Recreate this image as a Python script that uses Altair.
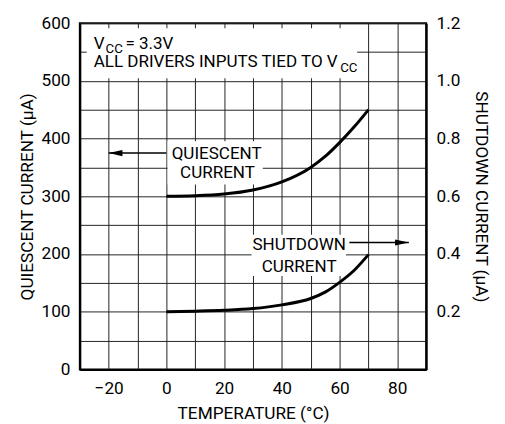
import altair as alt
import pandas as pd

# ---- data ----
temp = [0, 10, 20, 30, 40, 50, 55, 60, 65, 70]
quiescent = [300, 301, 304, 311, 325, 350, 369, 393, 420, 450]          # µA (left axis)
shutdown = [0.200, 0.202, 0.205, 0.211, 0.224, 0.246, 0.268, 0.302, 0.343, 0.398]  # µA (right axis)

x_ticks = list(range(-30, 91, 10))
left_ticks = list(range(0, 601, 50))
right_ticks = [0.2, 0.4, 0.6, 0.8, 1.0, 1.2]

X_DOMAIN = [-30, 90]
L_DOMAIN = [0, 600]
R_DOMAIN = [0, 1.2]

# annotation boxes (data units, left scale)
box_x0 = [-27.6, 0.4, 29.5]
box_x1 = [66.1, 33.4, 62.2]
box_y0 = [504.5, 320.5, 162]
box_y1 = [591, 395.5, 233.5]

# arrows (start -> tip), left scale
arrow_x0 = [0, 63.4]
arrow_x1 = [-20, 84]
arrow_y = [375, 220]

# labels
lbl_left_text = ["V", "CC", "= 3.3V", "ALL DRIVERS INPUTS TIED TO V", "CC"]
lbl_left_x = [-25.2, -21.1, -14.2, -25.2, 60.2]
lbl_left_y = [554.5, 548, 554.5, 523.3, 514.8]
lbl_left_fs = [17.3, 13.5, 17.3, 17.3, 13.5]

lbl_c_text = ["QUIESCENT", "CURRENT", "SHUTDOWN", "CURRENT"]
lbl_c_x = [17.4, 17.7, 46.0, 46.0]
lbl_c_y = [365, 331, 207, 169]

FONT = "Roboto"
FS_AX = 17.5
FS_TXT = 17.3

xs = alt.Scale(domain=X_DOMAIN, nice=False, zero=False)
ls = alt.Scale(domain=L_DOMAIN, nice=False)
rs = alt.Scale(domain=R_DOMAIN, nice=False)

x_axis = alt.Axis(
    values=x_ticks, title="TEMPERATURE (°C)", format="d",
    labelExpr="datum.value % 20 == 0 ? replace(datum.label, '-', '–') : ''",
    grid=True, ticks=False, labelPadding=10, titlePadding=8,
)
l_axis = alt.Axis(
    values=left_ticks, title="QUIESCENT CURRENT (µA)", format="d",
    labelExpr="datum.value % 100 == 0 ? datum.label : ''",
    grid=True, ticks=False, labelPadding=10, titlePadding=5,
)
r_axis = alt.Axis(
    values=right_ticks, title="SHUTDOWN CURRENT (µA)", format=".1f",
    orient="right", grid=False, ticks=False, labelPadding=10, titlePadding=12,
    titleAngle=90,
)

df_q = pd.DataFrame({"t": temp, "q": quiescent})
df_s = pd.DataFrame({"t": temp, "s": shutdown})
df_box = pd.DataFrame({"x0": box_x0, "x1": box_x1, "y0": box_y0, "y1": box_y1})
df_arr = pd.DataFrame({"x0": arrow_x0, "x1": arrow_x1, "y": arrow_y})
df_ll = pd.DataFrame({"text": lbl_left_text, "x": lbl_left_x, "y": lbl_left_y, "fs": lbl_left_fs})
df_lc = pd.DataFrame({"text": lbl_c_text, "x": lbl_c_x, "y": lbl_c_y})


def X(field):
    return alt.X(field, scale=xs, axis=x_axis)


def YL(field):
    return alt.Y(field, scale=ls, axis=l_axis)


boxes = alt.Chart(df_box).mark_rect(color="white", opacity=1).encode(
    x=X("x0:Q"), x2="x1:Q", y=YL("y0:Q"), y2="y1:Q",
)

q_line = alt.Chart(df_q).mark_line(color="black", strokeWidth=3, interpolate="monotone").encode(
    x=X("t:Q"), y=YL("q:Q"),
)

arr_shaft = alt.Chart(df_arr).mark_rule(color="black", strokeWidth=1.5).encode(
    x=X("x0:Q"), x2="x1:Q", y=YL("y:Q"),
)
head_left = alt.Chart(df_arr.iloc[[0]]).mark_point(
    shape="M 0 0 L 2 -0.45 L 2 0.45 Z", filled=True, color="black", opacity=1, size=196, strokeWidth=0
).encode(x=X("x1:Q"), y=YL("y:Q"))
head_right = alt.Chart(df_arr.iloc[[1]]).mark_point(
    shape="M 0 0 L -2 -0.45 L -2 0.45 Z", filled=True, color="black", opacity=1, size=196, strokeWidth=0
).encode(x=X("x1:Q"), y=YL("y:Q"))

txt_left = alt.Chart(df_ll).mark_text(align="left", baseline="alphabetic", font=FONT, color="black").encode(
    x=X("x:Q"), y=YL("y:Q"), text="text:N",
    size=alt.Size("fs:Q", scale=None, legend=None),
)
txt_c = alt.Chart(df_lc).mark_text(align="center", baseline="alphabetic", font=FONT, fontSize=FS_TXT, color="black").encode(
    x=X("x:Q"), y=YL("y:Q"), text="text:N",
)

left = alt.layer(boxes, q_line, arr_shaft, head_left, head_right, txt_left, txt_c)

right = alt.Chart(df_s).mark_line(color="black", strokeWidth=3, interpolate="monotone").encode(
    x=X("t:Q"),
    y=alt.Y("s:Q", scale=rs, axis=r_axis),
)

chart = alt.layer(left, right).resolve_scale(y="independent").properties(
    width=352, height=352,
    autosize=alt.AutoSizeParams(type="none"),
    padding={"left": 73, "top": 12, "right": 72, "bottom": 52},
).configure_view(
    stroke="black", strokeWidth=2
).configure_axis(
    labelFont=FONT, titleFont=FONT, labelFontSize=FS_AX, titleFontSize=FS_AX,
    labelColor="black", titleColor="black", titleFontWeight="normal",
    domainColor="black", domainWidth=2, gridColor="#222222", gridWidth=1, gridOpacity=1,
)

chart.save("out.html", embed_options={"renderer": "svg", "actions": False})
